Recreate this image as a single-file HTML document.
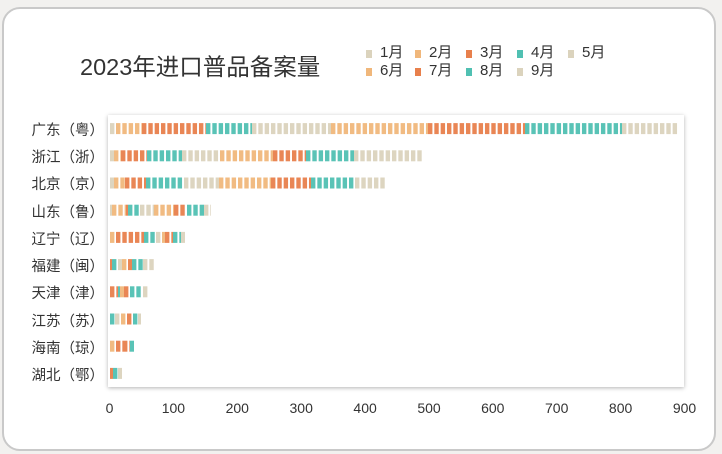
<!DOCTYPE html>
<html>
<head>
<meta charset="utf-8">
<style>
  html,body{margin:0;padding:0;}
  body{width:722px;height:454px;background:#f2f1ef;position:relative;overflow:hidden;
       font-family:"Liberation Sans","Noto Sans CJK SC",sans-serif;color:#333;}
  .card{position:absolute;left:2px;top:7px;width:710px;height:440px;background:#fff;
        border:2px solid #c9c9c9;border-radius:18px;}
  .title{position:absolute;left:80px;top:51px;font-size:23.5px;line-height:32px;color:#333;white-space:nowrap;}
  .lg{position:absolute;font-size:15px;line-height:18px;color:#333;white-space:nowrap;}
  .sq{position:absolute;width:6px;height:8px;}
  .plot{position:absolute;left:108px;top:115px;width:576px;height:272px;background:#fff;
        box-shadow:0 1px 4px rgba(0,0,0,0.3);}
  .yl{position:absolute;right:618px;font-size:14.5px;line-height:18px;color:#333;white-space:nowrap;text-align:right;}
  .xl{position:absolute;top:399px;font-size:14px;line-height:18px;color:#333;width:40px;text-align:center;}
  svg{position:absolute;left:0;top:0;}
</style>
</head>
<body>
<div class="card"></div>
<div class="title">2023年进口普品备案量</div>

<div class="sq" style="left:366px;top:50px;background:#dbd3bd"></div><div class="lg" style="left:380px;top:44px">1月</div>
<div class="sq" style="left:415px;top:50px;background:#f0b77b"></div><div class="lg" style="left:429px;top:44px">2月</div>
<div class="sq" style="left:466px;top:50px;background:#e8804c"></div><div class="lg" style="left:480px;top:44px">3月</div>
<div class="sq" style="left:517px;top:50px;background:#50c0b2"></div><div class="lg" style="left:531px;top:44px">4月</div>
<div class="sq" style="left:568px;top:50px;background:#dbd3bd"></div><div class="lg" style="left:582px;top:44px">5月</div>
<div class="sq" style="left:366px;top:68px;background:#f0b77b"></div><div class="lg" style="left:380px;top:62px">6月</div>
<div class="sq" style="left:415px;top:68px;background:#e8804c"></div><div class="lg" style="left:429px;top:62px">7月</div>
<div class="sq" style="left:466px;top:68px;background:#50c0b2"></div><div class="lg" style="left:480px;top:62px">8月</div>
<div class="sq" style="left:517px;top:68px;background:#dbd3bd"></div><div class="lg" style="left:531px;top:62px">9月</div>

<div class="plot"></div>

<div class="yl" style="top:121.5px">广东（粤）</div>
<div class="yl" style="top:148.5px">浙江（浙）</div>
<div class="yl" style="top:175.5px">北京（京）</div>
<div class="yl" style="top:203.5px">山东（鲁）</div>
<div class="yl" style="top:230.5px">辽宁（辽）</div>
<div class="yl" style="top:257.5px">福建（闽）</div>
<div class="yl" style="top:284.5px">天津（津）</div>
<div class="yl" style="top:312.5px">江苏（苏）</div>
<div class="yl" style="top:339.5px">海南（琼）</div>
<div class="yl" style="top:366.5px">湖北（鄂）</div>

<div class="xl" style="left:89.5px">0</div>
<div class="xl" style="left:153.4px">100</div>
<div class="xl" style="left:217.3px">200</div>
<div class="xl" style="left:281.2px">300</div>
<div class="xl" style="left:345.1px">400</div>
<div class="xl" style="left:409px">500</div>
<div class="xl" style="left:472.8px">600</div>
<div class="xl" style="left:536.7px">700</div>
<div class="xl" style="left:600.6px">800</div>
<div class="xl" style="left:664.5px">900</div>

<svg id="bars" width="722" height="454" xmlns="http://www.w3.org/2000/svg"></svg>

<script>
(function(){
  var rows = [
    [110,116,142,206,252,331,428,525,622,679],
    [110,114,121,147,182,220,273,306,354,423],
    [110,114,125,146,184,219,271,311,355,386],
    [110,112,126,128,140,154,174,187,204,211],
    [110,110,116,144,156,162,165,173,181,185],
    [110,110,110,112,118,122,128,132,143,154],
    [110,110,110,118,120,120,124,130,143,148],
    [110,110,110,110,115,121,127,133,138,141],
    [110,110,116,123,123,123,123,130,134,134],
    [110,110,110,113,118,118,118,118,118,122]
  ];
  var colors = ["#dbd3bd","#f0b77b","#e8804c","#50c0b2","#dbd3bd","#f0b77b","#e8804c","#50c0b2","#dbd3bd"];
  var svg = document.getElementById('bars');
  var ns = "http://www.w3.org/2000/svg";
  var P = 6.33, W = 4.4, H = 11;
  for (var i=0;i<rows.length;i++){
    var cy = 128.6 + i*27.2;
    var y0 = cy - H/2;
    var b = rows[i];
    for (var j=0;j<9;j++){
      var s=b[j], e=b[j+1];
      if (e - s < 0.5) continue;
      for (var x=s; x < e-0.4; x+=P){
        var w = Math.min(W, e-x);
        var r = document.createElementNS(ns,'rect');
        r.setAttribute('x', x.toFixed(2));
        r.setAttribute('y', y0.toFixed(2));
        r.setAttribute('width', w.toFixed(2));
        r.setAttribute('height', H);
        r.setAttribute('fill', colors[j]);
        r.setAttribute('fill-opacity', '0.95');
        svg.appendChild(r);
      }
    }
  }
})();
</script>
</body>
</html>
